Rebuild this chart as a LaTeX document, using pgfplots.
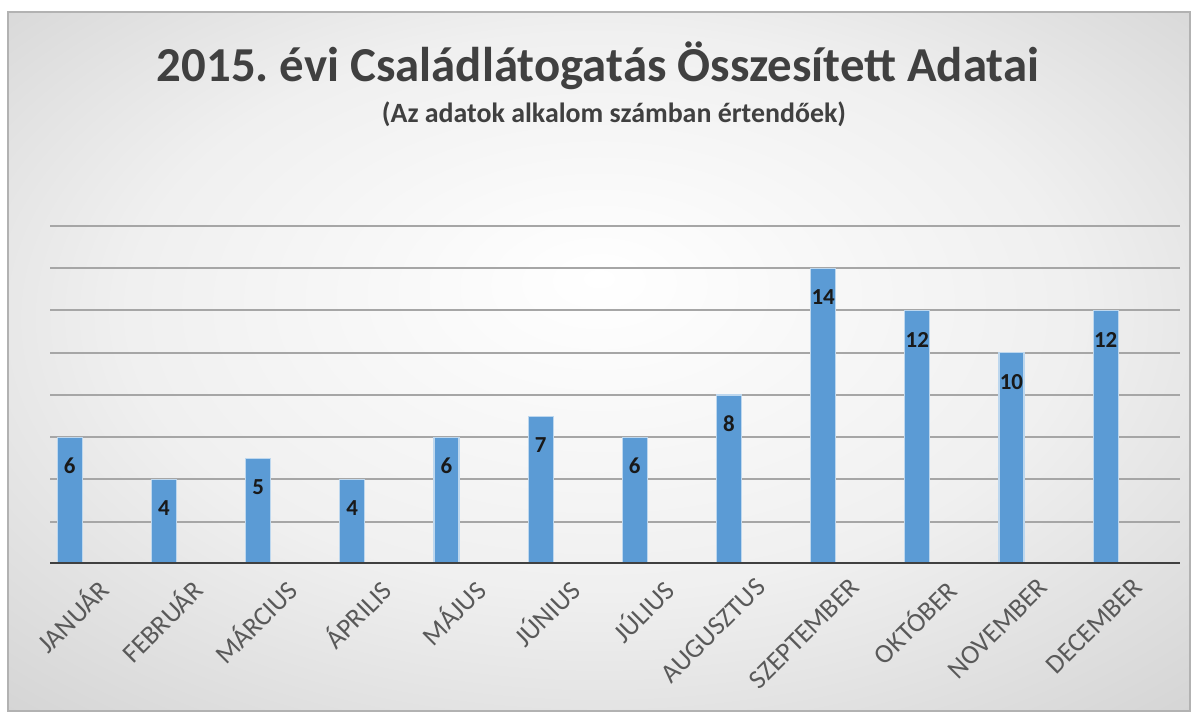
\documentclass[border=0pt]{standalone}
\usepackage{fontspec}
\setmainfont{Carlito}
\usepackage{pgfplots}
\pgfplotsset{compat=1.18}

\definecolor{barblue}{HTML}{5B9BD5}
\definecolor{txtgray}{HTML}{404040}
\definecolor{lblgray}{HTML}{595959}
\definecolor{gridgray}{HTML}{A6A6A6}

\pgfdeclareradialshading{chartbg}{\pgfpoint{0bp}{6bp}}{%
  color(0bp)=(white); color(20bp)=(black!6); color(50bp)=(black!25)}

\begin{document}
\frenchspacing
\begin{tikzpicture}
% page and chart area (1px = 0.5bp)
\fill[white] (0,0) rectangle (600bp,358bp);
\shade[shading=chartbg] (4bp,2.5bp) rectangle (595bp,352bp);
\draw[black!30, line width=0.8bp] (4bp,2.5bp) rectangle (595bp,352bp);

\node[anchor=base, text=txtgray, font=\fontsize{24.5}{24.5}\selectfont\bfseries]
  at (299bp,317bp) {2015. évi Családlátogatás Összesített Adatai};
\node[anchor=base, text=txtgray, font=\fontsize{14}{14}\selectfont\bfseries]
  at (307bp,296.5bp) {(Az adatok alkalom számban értendőek)};

\begin{axis}[
    at={(25bp,76bp)}, anchor=south west,
    scale only axis,
    width=565bp, height=169bp,
    ymin=0, ymax=16,
    xmin=-0.21, xmax=11.79,
    ybar, bar width=12.5bp, bar shift=0pt,
    axis x line*=bottom,
    axis y line*=left,
    x axis line style={draw=none},
    y axis line style={draw=none},
    ytick={2,4,...,16},
    yticklabels={},
    ymajorgrids,
    major grid style={gridgray, line width=1bp},
    tick style={draw=none},
    xtick={0,1,...,11},
    xticklabels={JANUÁR,FEBRUÁR,MÁRCIUS,ÁPRILIS,MÁJUS,JÚNIUS,JÚLIUS,AUGUSZTUS,SZEPTEMBER,OKTÓBER,NOVEMBER,DECEMBER},
    x tick label style={rotate=45, anchor=north east, text=lblgray,
      font=\fontsize{13.5}{13.5}\selectfont, xshift=11bp, yshift=-7bp},
    /pgf/number format/assume math mode=true,
    nodes near coords,
    nodes near coords style={anchor=center, yshift=-14.5bp, text=black!90,
      font=\fontsize{11.5}{11.5}\selectfont\bfseries},
  ]
\addplot[fill=barblue, draw=barblue!40!white, line width=0.6bp] coordinates {
  (0,6) (1,4) (2,5) (3,4) (4,6) (5,7)
  (6,6) (7,8) (8,14) (9,12) (10,10) (11,12)
};
\draw[txtgray, line width=1.6bp] (rel axis cs:0,0) -- (rel axis cs:1,0);
\end{axis}
\end{tikzpicture}
\end{document}
